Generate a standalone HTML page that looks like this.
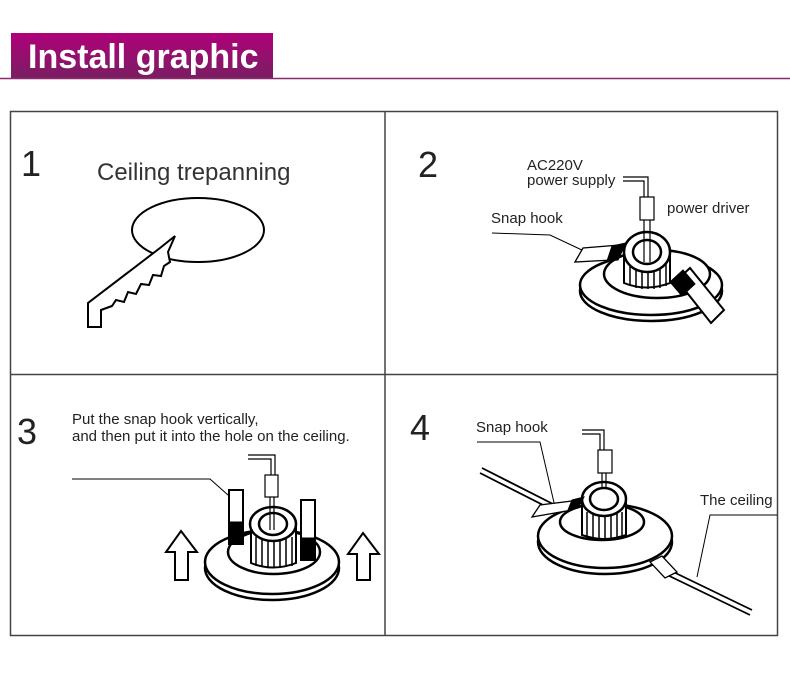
<!DOCTYPE html>
<html><head><meta charset="utf-8"><style>
body{margin:0;background:#fff;}
svg{display:block;}
text{font-family:"Liberation Sans",Arial,sans-serif;fill:#222;}
</style></head><body>
<svg width="790" height="680" viewBox="0 0 790 680" xmlns="http://www.w3.org/2000/svg">
<defs>
<linearGradient id="hg" x1="0" y1="0" x2="0" y2="1"><stop offset="0" stop-color="#b0007a"/><stop offset="1" stop-color="#7a1e62"/></linearGradient>
</defs>
<rect x="11" y="33" width="262" height="45" fill="url(#hg)"/>
<line x1="0" y1="78.5" x2="790" y2="78.5" stroke="#8a2a6e" stroke-width="1.5"/>
<text x="28" y="68" font-size="34" font-weight="bold" style="fill:#fff">Install graphic</text>

<g fill="none" stroke="#444" stroke-width="1.5">
<rect x="10.5" y="111.5" width="767" height="524"/>
<line x1="385" y1="111" x2="385" y2="636"/>
<line x1="10" y1="374.5" x2="778" y2="374.5"/>
</g>

<!-- panel 1 -->
<text x="21" y="176" font-size="36">1</text>
<text x="97" y="180" font-size="24" style="fill:#333">Ceiling trepanning</text>
<ellipse cx="198" cy="230" rx="66" ry="32" fill="none" stroke="#000" stroke-width="2"/>
<polygon points="88,303 88,327 101,327 101,310 112,306 116,300 124,302 128,292 136,294 141,284 149,285 153,275 161,276 164,266 170,262 168,252 175,236 160,248 88,303" fill="#fff" stroke="#000" stroke-width="2" stroke-linejoin="miter"/>

<!-- panel 2 -->
<text x="418" y="177" font-size="36">2</text>
<text x="527" y="170" font-size="15">AC220V</text>
<text x="527" y="185" font-size="15">power supply</text>
<text x="667" y="213" font-size="15">power driver</text>
<text x="491" y="223" font-size="15">Snap hook</text>
<g fill="none" stroke="#000">
<polyline points="492,233 550,235 584,251" stroke-width="1"/>
<path d="M623,177 H648 V197 M623,181 H644 V197" stroke-width="1.2"/>
<rect x="640" y="197" width="14" height="23" fill="#fff" stroke-width="1.2"/>
<ellipse cx="651" cy="291" rx="71" ry="30" stroke-width="2.5" fill="#fff"/>
<ellipse cx="651" cy="285" rx="71" ry="30" stroke-width="2.5" fill="#fff"/>
<ellipse cx="657" cy="274" rx="53" ry="24" stroke-width="2.5" fill="#fff"/>
<path d="M624,253 V283 Q646,292 670,283 V253" fill="#fff" stroke-width="2"/>
<path d="M630,262 V286 M636,263 V288 M642,264 V289 M648,264 V289 M654,264 V289 M660,263 V288 M666,262 V286" stroke-width="1.5"/>
<ellipse cx="647" cy="252" rx="23" ry="20" stroke-width="2.5" fill="#fff"/>
<ellipse cx="647" cy="252" rx="14" ry="12" stroke-width="2.5" fill="#fff"/>
<path d="M644,220 V262 M650,220 V262" stroke-width="1.2"/>
<polygon points="575,262 583,248 620,245 612,260" fill="#fff" stroke-width="1.3"/>
<polygon points="612,246 626,243 618,260 607,261" fill="#000" stroke="#000"/>
<polygon points="677,280 690,268 724,310 711,323" fill="#fff" stroke-width="2"/>
<polygon points="670,282 683,270 695,284 682,296" fill="#000"/>
</g>

<!-- panel 3 -->
<text x="17" y="444" font-size="36">3</text>
<text x="72" y="424" font-size="15">Put the snap hook vertically,</text>
<text x="72" y="441" font-size="15">and then put it into the hole on the ceiling.</text>
<g fill="none" stroke="#000">
<polyline points="72,479 210,479 237,503" stroke-width="1"/>
<ellipse cx="272" cy="568" rx="67" ry="32" stroke-width="2.5" fill="#fff"/>
<ellipse cx="272" cy="562" rx="67" ry="32" stroke-width="2.5" fill="#fff"/>
<ellipse cx="274" cy="552" rx="46" ry="22" stroke-width="2.5" fill="#fff"/>
<path d="M251,527 V563 Q273,572 296,563 V527" fill="#fff" stroke-width="2"/>
<path d="M256,537 V566 M262,538 V567 M268,539 V568 M274,539 V568 M280,539 V568 M286,538 V567 M292,537 V566" stroke-width="1.5"/>
<ellipse cx="273" cy="524" rx="23" ry="17" stroke-width="2.5" fill="#fff"/>
<ellipse cx="273" cy="524" rx="14" ry="11" stroke-width="2.5" fill="#fff"/>
<path d="M248,455 H275 V478 M248,459 H271 V478" stroke-width="1.2"/>
<rect x="265" y="475" width="13" height="22" fill="#fff" stroke-width="1.2"/>
<path d="M270,497 V530 M274,497 V530" stroke-width="1.2"/>
<rect x="229" y="490" width="14" height="54" fill="#fff" stroke-width="2"/>
<rect x="229" y="522" width="14" height="22" fill="#000"/>
<rect x="301" y="500" width="14" height="60" fill="#fff" stroke-width="2"/>
<rect x="301" y="538" width="14" height="22" fill="#000"/>
<polygon points="181,531 197,552 188,552 188,580 175,580 175,552 166,552" fill="#fff" stroke-width="2"/>
<polygon points="363,533 379,554 370,554 370,580 357,580 357,554 348,554" fill="#fff" stroke-width="2"/>
</g>

<!-- panel 4 -->
<text x="410" y="440" font-size="36">4</text>
<text x="476" y="432" font-size="15">Snap hook</text>
<text x="700" y="505" font-size="15">The ceiling</text>
<g fill="none" stroke="#000">
<polyline points="477,442 540,442 555,507" stroke-width="1"/>
<polyline points="777,515 710,515 697,577" stroke-width="1"/>
<path d="M482,468 L553,504 M480,473 L551,509" stroke-width="1.8"/>
<path d="M661,566 L752,610 M659,571 L750,615" stroke-width="1.8"/>
<ellipse cx="605" cy="542" rx="67" ry="32" stroke-width="2.5" fill="#fff"/>
<ellipse cx="605" cy="536" rx="67" ry="32" stroke-width="2.5" fill="#fff"/>
<ellipse cx="602" cy="522" rx="42" ry="18" stroke-width="2.5" fill="#fff"/>
<path d="M582,502 V535 Q604,543 626,535 V502" fill="#fff" stroke-width="2"/>
<path d="M587,512 V538 M593,513 V539 M599,514 V540 M605,514 V540 M611,514 V540 M617,513 V539 M622,512 V538" stroke-width="1.5"/>
<ellipse cx="604" cy="499" rx="22" ry="17" stroke-width="2.5" fill="#fff"/>
<ellipse cx="604" cy="499" rx="14" ry="11" stroke-width="2.5" fill="#fff"/>
<path d="M582,430 H604 V450 M582,434 H600 V450" stroke-width="1.2"/>
<rect x="598" y="450" width="14" height="23" fill="#fff" stroke-width="1.2"/>
<path d="M602,473 V488 M606,473 V488" stroke-width="1.2"/>
<polygon points="532,517 540,505 580,500 572,510" fill="#fff" stroke-width="1.3"/>
<polygon points="572,500 584,497 578,508 568,510" fill="#000"/>
<polygon points="650,562 662,556 677,572 665,578" fill="#fff" stroke-width="1.3"/>
</g>
</svg>
</body></html>
